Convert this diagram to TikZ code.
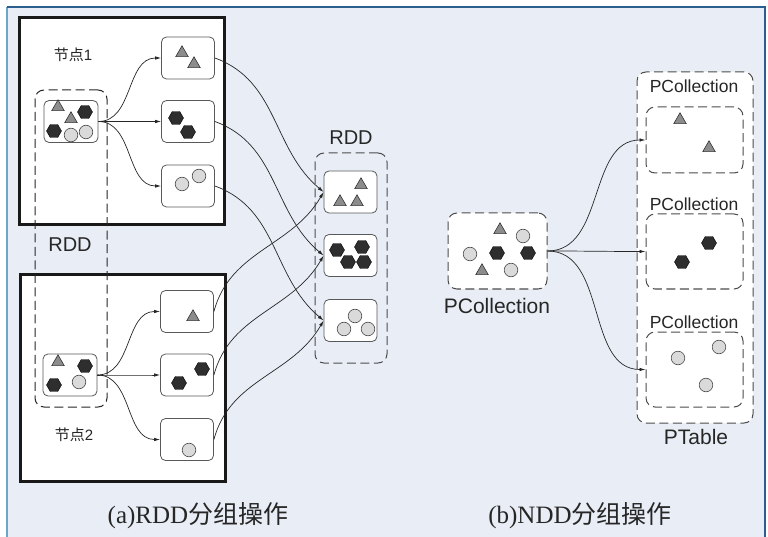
\documentclass[tikz,border=0pt]{standalone}
\usepackage{fontspec}
\setmainfont{Liberation Serif}
\setsansfont{Liberation Sans}
\newfontfamily\cjk{Noto Sans CJK SC}
\usepackage{tikz}
\usetikzlibrary{positioning,arrows.meta}
\definecolor{bgblue}{HTML}{E9EEF6}
\definecolor{frameleft}{HTML}{6AA6CC}
\definecolor{framedark}{HTML}{2B5E8C}
\definecolor{trigray}{HTML}{8C8C8C}
\definecolor{hexblack}{HTML}{2E2E2E}
\definecolor{dotgray}{HTML}{DADADA}
\newcommand{\triitem}[1]{
  \draw[trifill] (#1) +(90:7.2pt) -- +(210:7.2pt) -- +(330:7.2pt) -- cycle;
}
\newcommand{\hexitem}[1]{
  \draw[hexfill] (#1) +(0:7.5pt) -- +(60:7.5pt) -- +(120:7.5pt) -- +(180:7.5pt) -- +(240:7.5pt) -- +(300:7.5pt) -- cycle;
}
\newcommand{\dotitem}[1]{
  \draw[dotfill] (#1) circle[radius=6.8pt];
}
\tikzset{
nodebox/.style={draw=black!90, line width=3pt, fill=white, inner sep=0pt, outer sep=0pt},
itembox/.style={draw=black!65, line width=.8pt, fill=white, rounded corners=5pt, minimum width=53pt, minimum height=42pt, inner sep=0pt},
groupbox/.style={draw=black!70, line width=1pt, dash pattern=on 9pt off 4.5pt, rounded corners=9pt, inner sep=0pt},
link/.style={draw=black!85, line width=.7pt, -{Latex[length=6pt,width=3.5pt]}},
trifill/.style={fill=trigray, draw=black!80, line width=.6pt},
hexfill/.style={fill=hexblack, draw=black, line width=.4pt},
dotfill/.style={fill=dotgray, draw=black!70, line width=.6pt},
biglbl/.style={font=\sffamily\fontsize{20}{20}\selectfont, text=black!85},
smalllbl/.style={font=\sffamily\fontsize{17.5}{17.5}\selectfont, text=black!85},
hostlbl/.style={font=\sffamily\fontsize{15}{15}\selectfont, text=black!85},
caption/.style={font=\rmfamily\fontsize{25}{25}\selectfont, text=black!85}
}

\begin{document}
\begin{tikzpicture}[x=1pt,y=-1pt]
\useasboundingbox (0,0) rectangle (768,537);
\fill[bgblue] (7,7) rectangle (765,537);
\draw[frameleft, line width=1.6pt] (7,537) -- (7,7);
\draw[framedark, line width=1.6pt] (7,7) -- (765,7) -- (765,537);

% (a) RDD
\node[nodebox, minimum width=205pt, minimum height=207pt] (host1) at (121.5,121.5) {};
\node[nodebox, minimum width=205pt, minimum height=206pt] (host2) at (122.5,378) {};
\node[hostlbl] (host1lbl) at (73,55) {{\cjk 节点}1};
\node[hostlbl] (host2lbl) at (74,435) {{\cjk 节点}2};

\node[itembox, minimum width=54pt] (src1) at (71,121.5) {};
\node[itembox] (t1a) at (188,58) {};
\node[itembox] (t1b) at (188,121.5) {};
\node[itembox] (t1c) at (188,186) {};
\node[itembox, minimum width=54pt] (src2) at (70,375) {};
\node[itembox] (t2a) at (187,311.5) {};
\node[itembox] (t2b) at (187,375) {};
\node[itembox] (t2c) at (187,439.5) {};

\node[groupbox, draw=black!85, minimum width=72pt, minimum height=317pt] (rddin) at (71,248.5) {};
\node[biglbl] (rddinlbl) at (70,245) {RDD};

\node[groupbox, minimum width=72pt, minimum height=210pt] (rddout) at (351,258) {};
\node[biglbl, above=4pt of rddout] (rddoutlbl) {RDD};
\node[itembox] (r1) at (350.5,192) {};
\node[itembox] (r2) at (350.5,255.5) {};
\node[itembox] (r3) at (350.5,320.5) {};

\foreach \p in {{58,107},{71,119},{182,53},{194,64},{58,362},{193,317},{361,185},{340,202},{357,202}}
  {\triitem{\p}}
\foreach \p in {{85,112},{54,131},{176,118},{188,132},{85,366},{54,385},{179,383},{202,369},{337,250},{362,247},{348,262},{364,262}}
  {\hexitem{\p}}
\foreach \p in {{71,135},{86,132},{182,184},{199,176},{79,382},{189,450},{355,316},{344,329},{368,329}}
  {\dotitem{\p}}

\foreach \t in {t1a,t1b,t1c}
  \draw[link] (src1.east) to[out=0,in=180] (\t.west);
\foreach \t in {t2a,t2b,t2c}
  \draw[link] (src2.east) to[out=0,in=180] (\t.west);
\draw[link] (t1a.east) to[out=-20,in=140] (r1.west);
\draw[link] (t1b.east) to[out=-20,in=140] (r2.west);
\draw[link] (t1c.east) to[out=-20,in=140] (r3.west);
\draw[link] (t2a.east) to[out=75,in=240] (r1.west);
\draw[link] (t2b.east) to[out=75,in=240] (r2.west);
\draw[link] (t2c.east) to[out=75,in=240] (r3.west);

% (b) NDD
\node[groupbox, fill=white, minimum width=99pt, minimum height=76pt] (pc) at (497.5,251) {};
\node[biglbl, font=\sffamily\fontsize{21}{21}\selectfont] (pclbl) at (497,306) {PCollection};
\node[groupbox, fill=white, minimum width=116pt, minimum height=351pt] (ptable) at (695,247.5) {};
\node[biglbl, font=\sffamily\fontsize{21}{21}\selectfont] (ptablelbl) at (696,437) {PTable};
\node[groupbox, minimum width=97pt, minimum height=66pt] (p1) at (694.5,140) {};
\node[groupbox, minimum width=97pt, minimum height=75pt] (p2) at (694.5,251.5) {};
\node[groupbox, minimum width=97pt, minimum height=75pt] (p3) at (694.5,369.5) {};
\node[smalllbl] (p1lbl) at (694,86) {PCollection};
\node[smalllbl] (p2lbl) at (694,204) {PCollection};
\node[smalllbl] (p3lbl) at (694,322) {PCollection};

\foreach \p in {{500,230},{482,271},{680,120},{709,148}}
  {\triitem{\p}}
\foreach \p in {{497,253},{528,253},{709,243},{682,262}}
  {\hexitem{\p}}
\foreach \p in {{523,236},{470,254},{511,270},{678,358},{719,347},{706,385}}
  {\dotitem{\p}}

\foreach \t in {p1,p2,p3}
  \draw[link] (pc.east) to[out=0,in=180] (\t.west);

\node[caption] (capa) at (198,516) {(a)RDD{\cjk 分组操作}};
\node[caption] (capb) at (580,516) {(b)NDD{\cjk 分组操作}};
\end{tikzpicture}
\end{document}
